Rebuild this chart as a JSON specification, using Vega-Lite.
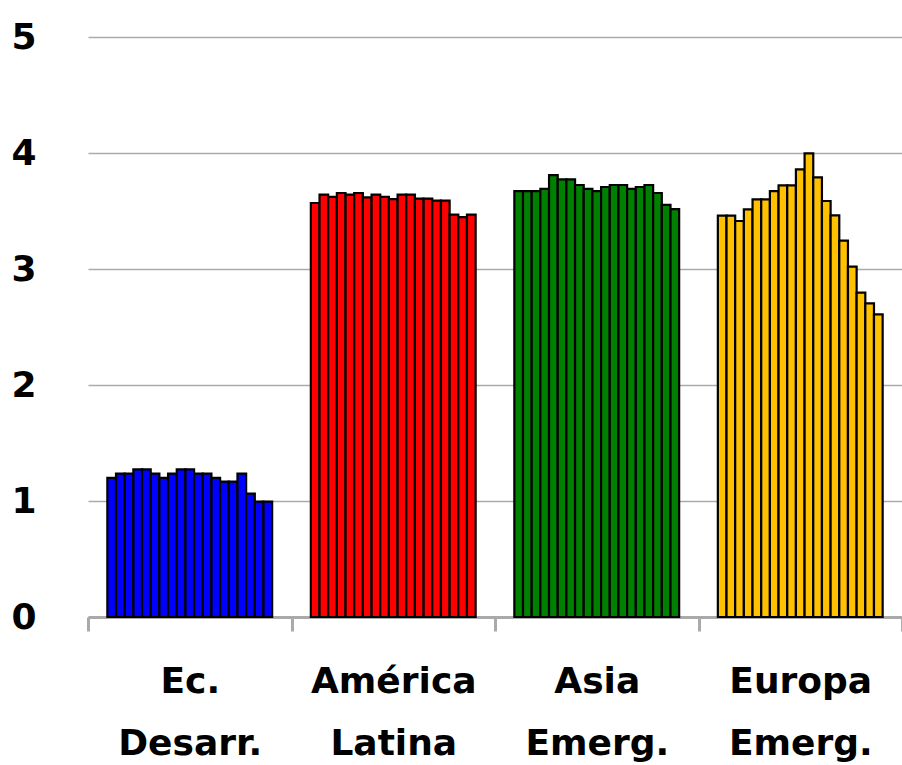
{
  "$schema": "https://vega.github.io/schema/vega-lite/v6.json",
  "width": 814,
  "height": 580,
  "autosize": {"type": "none"},
  "padding": {"left": 88, "top": 37, "right": 0, "bottom": 148},
  "background": "white",
  "config": {"view": {"stroke": null}, "font": "DejaVu Sans"},
  "data": {"values": [
    {"g":"Ec. Desarr.","i":1,"v":1.20},{"g":"Ec. Desarr.","i":2,"v":1.236},{"g":"Ec. Desarr.","i":3,"v":1.236},{"g":"Ec. Desarr.","i":4,"v":1.273},{"g":"Ec. Desarr.","i":5,"v":1.273},{"g":"Ec. Desarr.","i":6,"v":1.236},{"g":"Ec. Desarr.","i":7,"v":1.20},{"g":"Ec. Desarr.","i":8,"v":1.236},{"g":"Ec. Desarr.","i":9,"v":1.273},{"g":"Ec. Desarr.","i":10,"v":1.273},{"g":"Ec. Desarr.","i":11,"v":1.236},{"g":"Ec. Desarr.","i":12,"v":1.236},{"g":"Ec. Desarr.","i":13,"v":1.20},{"g":"Ec. Desarr.","i":14,"v":1.167},{"g":"Ec. Desarr.","i":15,"v":1.167},{"g":"Ec. Desarr.","i":16,"v":1.236},{"g":"Ec. Desarr.","i":17,"v":1.063},{"g":"Ec. Desarr.","i":18,"v":0.994},{"g":"Ec. Desarr.","i":19,"v":0.994},
    {"g":"América Latina","i":1,"v":3.569},{"g":"América Latina","i":2,"v":3.641},{"g":"América Latina","i":3,"v":3.621},{"g":"América Latina","i":4,"v":3.655},{"g":"América Latina","i":5,"v":3.641},{"g":"América Latina","i":6,"v":3.655},{"g":"América Latina","i":7,"v":3.618},{"g":"América Latina","i":8,"v":3.641},{"g":"América Latina","i":9,"v":3.621},{"g":"América Latina","i":10,"v":3.603},{"g":"América Latina","i":11,"v":3.641},{"g":"América Latina","i":12,"v":3.641},{"g":"América Latina","i":13,"v":3.606},{"g":"América Latina","i":14,"v":3.606},{"g":"América Latina","i":15,"v":3.589},{"g":"América Latina","i":16,"v":3.589},{"g":"América Latina","i":17,"v":3.468},{"g":"América Latina","i":18,"v":3.448},{"g":"América Latina","i":19,"v":3.468},
    {"g":"Asia Emerg.","i":1,"v":3.672},{"g":"Asia Emerg.","i":2,"v":3.672},{"g":"Asia Emerg.","i":3,"v":3.672},{"g":"Asia Emerg.","i":4,"v":3.690},{"g":"Asia Emerg.","i":5,"v":3.810},{"g":"Asia Emerg.","i":6,"v":3.773},{"g":"Asia Emerg.","i":7,"v":3.773},{"g":"Asia Emerg.","i":8,"v":3.724},{"g":"Asia Emerg.","i":9,"v":3.690},{"g":"Asia Emerg.","i":10,"v":3.672},{"g":"Asia Emerg.","i":11,"v":3.707},{"g":"Asia Emerg.","i":12,"v":3.724},{"g":"Asia Emerg.","i":13,"v":3.724},{"g":"Asia Emerg.","i":14,"v":3.690},{"g":"Asia Emerg.","i":15,"v":3.707},{"g":"Asia Emerg.","i":16,"v":3.724},{"g":"Asia Emerg.","i":17,"v":3.655},{"g":"Asia Emerg.","i":18,"v":3.552},{"g":"Asia Emerg.","i":19,"v":3.517},
    {"g":"Europa Emerg.","i":1,"v":3.460},{"g":"Europa Emerg.","i":2,"v":3.460},{"g":"Europa Emerg.","i":3,"v":3.414},{"g":"Europa Emerg.","i":4,"v":3.514},{"g":"Europa Emerg.","i":5,"v":3.601},{"g":"Europa Emerg.","i":6,"v":3.601},{"g":"Europa Emerg.","i":7,"v":3.672},{"g":"Europa Emerg.","i":8,"v":3.721},{"g":"Europa Emerg.","i":9,"v":3.721},{"g":"Europa Emerg.","i":10,"v":3.859},{"g":"Europa Emerg.","i":11,"v":3.997},{"g":"Europa Emerg.","i":12,"v":3.790},{"g":"Europa Emerg.","i":13,"v":3.586},{"g":"Europa Emerg.","i":14,"v":3.463},{"g":"Europa Emerg.","i":15,"v":3.244},{"g":"Europa Emerg.","i":16,"v":3.020},{"g":"Europa Emerg.","i":17,"v":2.796},{"g":"Europa Emerg.","i":18,"v":2.704},{"g":"Europa Emerg.","i":19,"v":2.609}
  ]},
  "mark": {"type": "bar", "stroke": "black", "strokeWidth": 2.2, "strokeJoin": "miter"},
  "encoding": {
    "x": {
      "field": "g", "type": "nominal", "sort": null, "title": null,
      "scale": {"paddingInner": 0, "paddingOuter": 0},
      "axis": {
        "tickBand": "extent", "domainColor": "#aaaaaa", "domainWidth": 3,
        "tickColor": "#aaaaaa", "tickWidth": 3, "tickSize": 14,
        "labelAngle": 0, "labelFontSize": 36, "labelFontWeight": "bold", "labelColor": "black",
        "labelPadding": 33, "labelLineHeight": 62,
        "labelExpr": "split(datum.label, ' ')"
      }
    },
    "xOffset": {"field": "i", "type": "ordinal", "scale": {"domain": [-1, 0, 1, 2, 3, 4, 5, 6, 7, 8, 9, 10, 11, 12, 13, 14, 15, 16, 17, 18, 19, 20, 21], "paddingInner": 0, "paddingOuter": 0.23}},
    "y": {
      "field": "v", "type": "quantitative", "title": null,
      "scale": {"domain": [0, 5], "nice": false},
      "axis": {
        "values": [0, 1, 2, 3, 4, 5], "domain": false, "ticks": false,
        "gridColor": "#aaaaaa", "gridWidth": 1.5,
        "labelFontSize": 36, "labelFontWeight": "bold", "labelColor": "black", "labelPadding": 52
      }
    },
    "color": {
      "field": "g", "type": "nominal", "sort": null, "legend": null,
      "scale": {"domain": ["Ec. Desarr.", "América Latina", "Asia Emerg.", "Europa Emerg."], "range": ["#0000ff", "#ff0000", "#008000", "#ffc000"]}
    }
  }
}
